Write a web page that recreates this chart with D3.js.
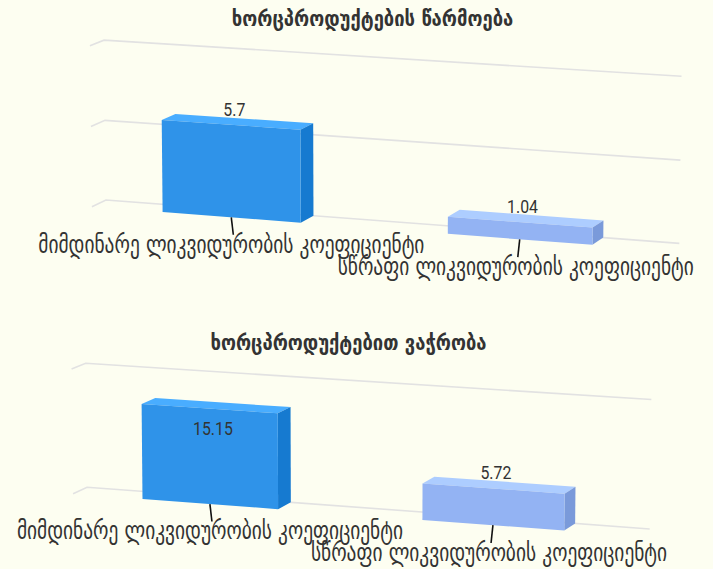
<!DOCTYPE html>
<html>
<head>
<meta charset="utf-8">
<script src="https://cdn.jsdelivr.net/npm/d3@7"></script>
<style>
    body { margin: 0; background: #fdfef1; }
    svg { display: block; }
</style>
</head>
<body>
<div id="chart"></div>
<script>
// data
const categories = ['მიმდინარე ლიკვიდურობის კოეფიციენტი', 'სწრაფი ლიკვიდურობის კოეფიციენტი'];
const titles = ['ხორცპროდუქტების წარმოება', 'ხორცპროდუქტებით ვაჭრობა'];
const productionValues = [5.7, 1.04];
const tradeValues = [15.15, 5.72];
const productionTicks = [0, 5, 10];
const tradeTicks = [0, 20];
const colors = ['#2f93e9', '#93b3f3'];

const w = 713;
const h = 569;

const svg = d3.select('#chart')
    .append('svg')
    .attr('width', w)
    .attr('height', h);

// simple 3d projection, rotate around the plot centre then perspective
function makeProjector(cx, cy, depth, alpha, beta, viewDistance) {
    const sa = Math.sin(alpha * Math.PI / 180), ca = Math.cos(alpha * Math.PI / 180);
    const sb = Math.sin(beta * Math.PI / 180), cb = Math.cos(beta * Math.PI / 180);
    return (x, y, z) => {
        const u = x - cx, v = y - cy, dz = z - depth / 2;
        const u1 = cb * u + sb * dz;
        const w1 = -sb * u + cb * dz;
        const v2 = ca * v - sa * w1;
        const w2 = sa * v + ca * w1;
        const p = viewDistance / (viewDistance + w2);
        return [cx + u1 * p, cy + v2 * p];
    };
}

// highcharts-like brighten
function brighten(c, k) {
    const rgb = d3.rgb(c);
    const f = v => Math.max(0, Math.min(255, Math.round(v + 255 * k)));
    return d3.rgb(f(rgb.r), f(rgb.g), f(rgb.b)).formatHex();
}

// squeeze text horizontally, the reference font is a condensed one
function squeeze(sel, k) {
    sel.each(function () {
        const len = this.getComputedTextLength();
        d3.select(this).attr('textLength', len * k).attr('lengthAdjust', 'spacingAndGlyphs');
    });
}

const line = d3.line();

function drawPanel(opts) {
    const { title, values, ticks, left, top, width, height } = opts;
    const depth = 36;
    const cx = left + width / 2;
    const cy = top + height / 2;
    const project = makeProjector(cx, cy, depth, 11, 20, 4500);

    const x_scale = d3.scaleBand()
        .domain(categories)
        .range([left, left + width])
        .paddingInner(0.51)
        .paddingOuter(0.255);

    const y_scale = d3.scaleLinear()
        .domain([0, d3.max(ticks)])
        .range([top + height, top]);

    const g = svg.append('g');

    // title
    g.append('text')
        .attr('x', cx - 7.5)
        .attr('y', top - 33.5)
        .attr('text-anchor', 'middle')
        .attr('font-family', 'DejaVu Sans Condensed, DejaVu Sans')
        .attr('font-weight', 'bold')
        .attr('font-size', 22)
        .attr('fill', '#333')
        .text(title)
        .call(squeeze, 0.93);

    // gridlines on back wall and left side wall
    const grid = g.append('g')
        .attr('fill', 'none')
        .attr('stroke', '#e2e2e2')
        .attr('stroke-width', 1.6);

    grid.selectAll('path.back')
        .data(ticks)
        .enter()
        .append('path')
        .attr('class', 'back')
        .attr('d', t => line([
            project(left, y_scale(t), 0),
            project(left, y_scale(t), depth),
            project(left + width, y_scale(t), depth)
        ]));

    // bars
    const bars = g.selectAll('g.bar')
        .data(values.map((v, i) => ({ cat: categories[i], value: v, color: colors[i] })))
        .enter()
        .append('g')
        .attr('class', 'bar');

    const faces = d => {
        const x0 = x_scale(d.cat), x1 = x0 + x_scale.bandwidth();
        const y0 = y_scale(0), y1 = y_scale(d.value);
        return {
            top: [[x0, y1, 0], [x1, y1, 0], [x1, y1, depth], [x0, y1, depth]],
            side: [[x1, y1, 0], [x1, y1, depth], [x1, y0, depth], [x1, y0, 0]],
            front: [[x0, y1, 0], [x1, y1, 0], [x1, y0, 0], [x0, y0, 0]]
        };
    };
    const facePath = pts => line(pts.map(p => project(p[0], p[1], p[2]))) + 'Z';

    bars.append('path')
        .attr('d', d => facePath(faces(d).top))
        .attr('fill', d => brighten(d.color, 0.1));
    bars.append('path')
        .attr('d', d => facePath(faces(d).side))
        .attr('fill', d => brighten(d.color, -0.1));
    bars.append('path')
        .attr('d', d => facePath(faces(d).front))
        .attr('fill', d => d.color);

    // data labels
    bars.append('text')
        .attr('text-anchor', 'middle')
        .attr('font-family', 'Roboto')
        .attr('font-size', 18)
        .attr('fill', '#333')
        .each(function (d) {
            const xc = x_scale(d.cat) + x_scale.bandwidth() / 2;
            const yTop = y_scale(d.value);
            const p = project(xc, yTop, depth / 2);
            const inside = yTop - top < 36;
            d3.select(this)
                .attr('x', p[0] - 3)
                .attr('y', inside ? p[1] + 29 : p[1] - 6);
        })
        .text(d => d.value)
        .call(squeeze, 0.88);

    // axis ticks and category labels
    const axis = g.selectAll('g.tick')
        .data(categories)
        .enter()
        .append('g')
        .attr('class', 'tick');

    const tickEnds = c => {
        const xc = x_scale(c) + x_scale.bandwidth() / 2;
        const a = project(xc, y_scale(0), 0);
        const b = project(xc, y_scale(0) + 18, 0);
        b[0] += (cx - b[0]) * 0.013;
        return [a, b];
    };

    axis.append('path')
        .attr('d', c => line(tickEnds(c)))
        .attr('stroke', '#111')
        .attr('stroke-width', 1.6);

    axis.append('text')
        .attr('x', c => tickEnds(c)[1][0] - 2)
        .attr('y', c => tickEnds(c)[1][1] + 18)
        .attr('text-anchor', 'middle')
        .attr('font-family', 'DejaVu Sans Condensed, DejaVu Sans')
        .attr('font-size', 25)
        .attr('fill', '#333')
        .text(c => c)
        .call(squeeze, 0.862);
}

drawPanel({ title: titles[0], values: productionValues, ticks: productionTicks, left: 73, top: 59.5, width: 614, height: 167 });
drawPanel({ title: titles[1], values: tradeValues, ticks: tradeTicks, left: 55, top: 383, width: 602, height: 129.4 });
</script>
</body>
</html>
